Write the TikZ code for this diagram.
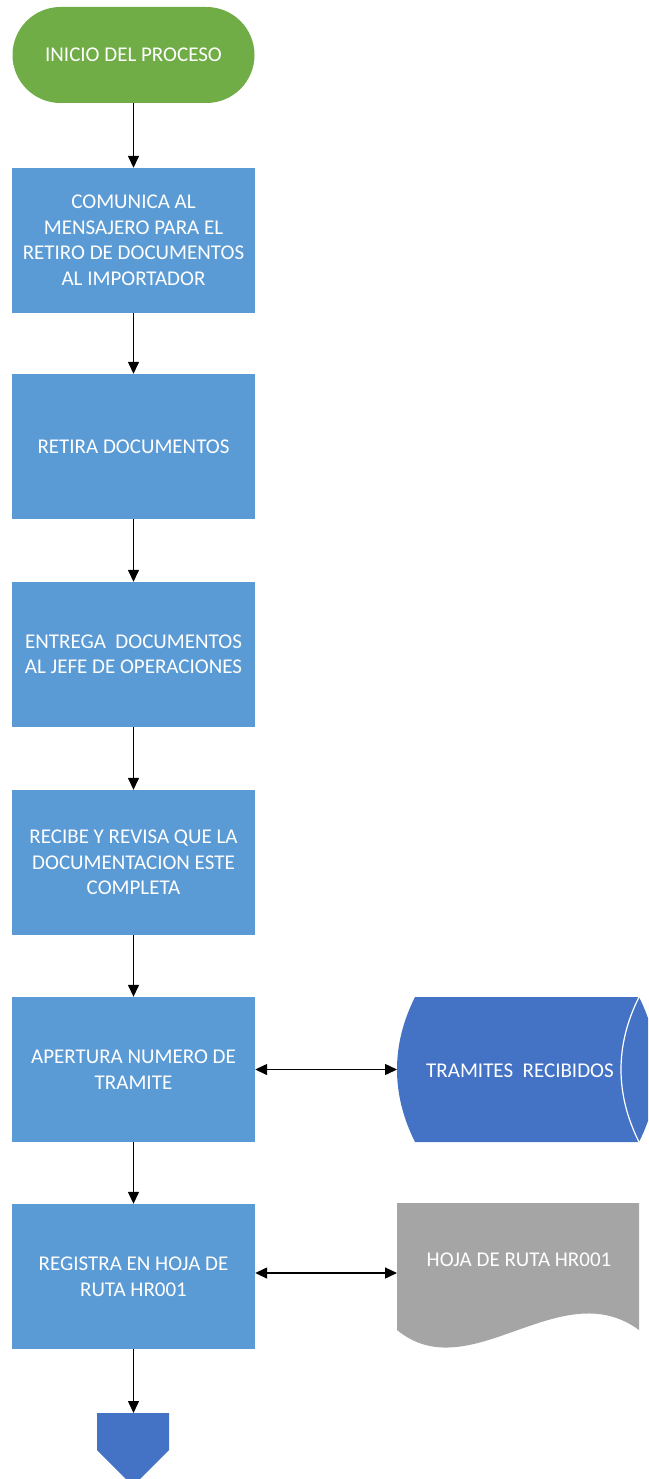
\documentclass[tikz,border=0pt]{standalone}
\usepackage{fontspec}
\setmainfont{Carlito}
\usetikzlibrary{arrows.meta}
\definecolor{startgreen}{HTML}{70AD47}
\definecolor{boxblue}{HTML}{5B9BD5}
\definecolor{darkblue}{HTML}{4472C4}
\definecolor{docgray}{HTML}{A5A5A5}
\tikzset{
  txt/.style={text=white, font=\fontsize{21}{25.5}\selectfont, align=center},
  procbox/.style={txt, fill=boxblue, minimum width=243pt, minimum height=145pt, inner sep=0pt},
  startbox/.style={txt, fill=startgreen, minimum width=242pt, minimum height=96pt, rounded corners=48pt, inner sep=0pt},
  arr/.style={line width=1.4pt, -{Triangle[width=11pt,length=12pt]}},
  darr/.style={line width=1.4pt, {Triangle[width=11pt,length=12pt]}-{Triangle[width=11pt,length=12pt]}}
}
\begin{document}
\begin{tikzpicture}[x=1pt,y=-1pt]
\useasboundingbox (0,0) rectangle (648,1479);
\clip (0,0) rectangle (648,1479);
\node[startbox] (inicio) at (133.5,55) {INICIO DEL PROCESO};
\node[procbox] (b1) at (133.5,240.5) {COMUNICA AL\\MENSAJERO PARA EL\\RETIRO DE DOCUMENTOS\\AL IMPORTADOR};
\node[procbox] (b2) at (133.5,446.5) {RETIRA DOCUMENTOS};
\node[procbox] (b3) at (133.5,654.5) {ENTREGA\ \ DOCUMENTOS\\AL JEFE DE OPERACIONES};
\node[procbox] (b4) at (133.5,862.5) {RECIBE Y REVISA QUE LA\\DOCUMENTACION ESTE\\COMPLETA};
\node[procbox] (b5) at (133.5,1069.5) {APERTURA NUMERO DE\\TRAMITE};
\node[procbox] (b6) at (133.5,1276.5) {REGISTRA EN HOJA DE\\RUTA HR001};
% storage shape
\fill[darkblue] (415,997) -- (639,997) .. controls (663,1045) and (663,1094) .. (639,1142)
  -- (415,1142) .. controls (391,1094) and (391,1045) .. (415,997) -- cycle;
\draw[white, line width=1.2pt] (639,997) .. controls (615,1045) and (615,1094) .. (639,1142);
\node[txt] (store) at (520,1071) {TRAMITES\ \ RECIBIDOS};
\coordinate (storeL) at (397,1069.5);
% document shape
\fill[docgray] (397,1203) -- (639,1203) -- (639,1330)
  .. controls (560,1272) and (470,1390) .. (397,1330) -- cycle;
\node[txt] (doc) at (519,1260) {HOJA DE RUTA HR001};
\coordinate (docL) at (397,1273);
% off-page connector
\fill[darkblue] (97,1413) -- (169,1413) -- (169,1450) -- (133,1486) -- (97,1450) -- cycle;
\coordinate (finTop) at (133.5,1413);
% connectors
\draw[arr] (inicio) -- (b1);
\draw[arr] (b1) -- (b2);
\draw[arr] (b2) -- (b3);
\draw[arr] (b3) -- (b4);
\draw[arr] (b4) -- (b5);
\draw[arr] (b5) -- (b6);
\draw[arr] (b6) -- (finTop);
\draw[darr] (b5.east) -- (storeL);
\draw[darr] (b6.east |- docL) -- (docL);
\end{tikzpicture}
\end{document}
